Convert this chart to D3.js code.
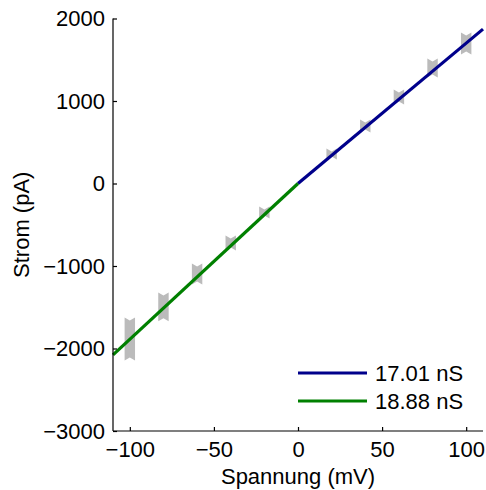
<!DOCTYPE html>
<html>
<head>
<meta charset="utf-8">
<script src="https://cdn.jsdelivr.net/npm/d3@7"></script>
<style>
  body { margin: 0; background: #fff; }
  text { font-family: "Liberation Sans", Arial, sans-serif; fill: #000; }
</style>
</head>
<body>
<div id="chart"></div>
<script>
// measured voltage steps (mV) and spread of current (pA) at each step
var voltages = [-100, -80, -60, -40, -20, 20, 40, 60, 80, 100];
var currentHi = [-1624, -1321, -970, -630, -279, 424, 776, 1139, 1515, 1830];
var currentLo = [-2145, -1669, -1224, -812, -424, 291, 618, 958, 1285, 1564];

// linear fits: conductance (nS) over voltage range
var fitNames = ["17.01 nS", "18.88 nS"];
var fitSlopes = [17.01, 18.88];
var fitRanges = [[0, 110], [-110, 0]];
var fitColors = ["#00008b", "#008000"];

var xTicks = [-100, -50, 0, 50, 100];
var yTicks = [-3000, -2000, -1000, 0, 1000, 2000];

var width = 486, height = 490;
var margin = { left: 113, right: 3, top: 18.5, bottom: 59 };
var fontSize = "22px";

var svg = d3.select("#chart").append("svg")
  .attr("width", width)
  .attr("height", height);

var x = d3.scaleLinear().domain([-110, 110]).range([margin.left, width - margin.right]);
var y = d3.scaleLinear().domain([-3000, 2000]).range([height - margin.bottom, margin.top]);

// gray bow-tie marks for raw data
var halfW = 3.1; // mV
var notch = 3; // px
var marks = voltages.map(function(v, i) {
  return { v: v, hi: currentHi[i], lo: currentLo[i] };
});
svg.append("g").selectAll("path")
  .data(marks)
  .enter().append("path")
  .attr("fill", "#bbbbbb")
  .attr("d", function(d) {
    var x0 = x(d.v - halfW), x1 = x(d.v + halfW), xm = x(d.v);
    var yt = y(d.hi), yb = y(d.lo);
    var n = Math.min(notch, (yb - yt) / 2 - 1);
    return "M" + x0 + "," + yt + "L" + xm + "," + (yt + n) + "L" + x1 + "," + yt +
      "L" + x1 + "," + yb + "L" + xm + "," + (yb - n) + "L" + x0 + "," + yb + "Z";
  });

// fit lines
var line = d3.line().x(function(d) { return x(d[0]); }).y(function(d) { return y(d[1]); });
fitSlopes.forEach(function(s, i) {
  var r = fitRanges[i];
  svg.append("path")
    .attr("d", line([[r[0], s * r[0]], [r[1], s * r[1]]]))
    .attr("stroke", fitColors[i])
    .attr("stroke-width", 3.2)
    .attr("fill", "none");
});

// axes (ticks inward)
var fmt = function(d) { return d < 0 ? "\u2212" + Math.abs(d) : d; };
var xAxis = svg.append("g")
  .attr("transform", "translate(0," + (height - margin.bottom) + ")")
  .call(d3.axisBottom(x).tickValues(xTicks).tickSizeInner(-4).tickSizeOuter(0)
    .tickPadding(10).tickFormat(fmt));
var yAxis = svg.append("g")
  .attr("transform", "translate(" + margin.left + ",0)")
  .call(d3.axisLeft(y).tickValues(yTicks).tickSizeInner(-4).tickSizeOuter(0)
    .tickPadding(8).tickFormat(fmt));
[xAxis, yAxis].forEach(function(a) {
  a.selectAll("text").style("font-size", fontSize).attr("font-family", null);
  a.selectAll("line, path").attr("stroke", "#000").attr("stroke-width", 1.2);
});
xAxis.select(".domain").attr("d", "M" + margin.left + ",0H" + (width - margin.right));
yAxis.select(".domain").attr("d", "M0," + margin.top + "V" + (height - margin.bottom));

// axis labels
svg.append("text")
  .attr("x", x(0))
  .attr("y", 484)
  .attr("text-anchor", "middle")
  .style("font-size", fontSize)
  .text("Spannung (mV)");
svg.append("text")
  .attr("transform", "translate(29," + ((margin.top + height - margin.bottom) / 2) + ") rotate(-90)")
  .attr("text-anchor", "middle")
  .style("font-size", fontSize)
  .text("Strom (pA)");

// legend
var legend = svg.append("g");
fitNames.forEach(function(name, i) {
  var ly = 373 + i * 28;
  legend.append("line")
    .attr("x1", 298).attr("x2", 367)
    .attr("y1", ly).attr("y2", ly)
    .attr("stroke", fitColors[i])
    .attr("stroke-width", 3.2);
  legend.append("text")
    .attr("x", 375)
    .attr("y", ly + 8)
    .style("font-size", fontSize)
    .text(name);
});
</script>
</body>
</html>
